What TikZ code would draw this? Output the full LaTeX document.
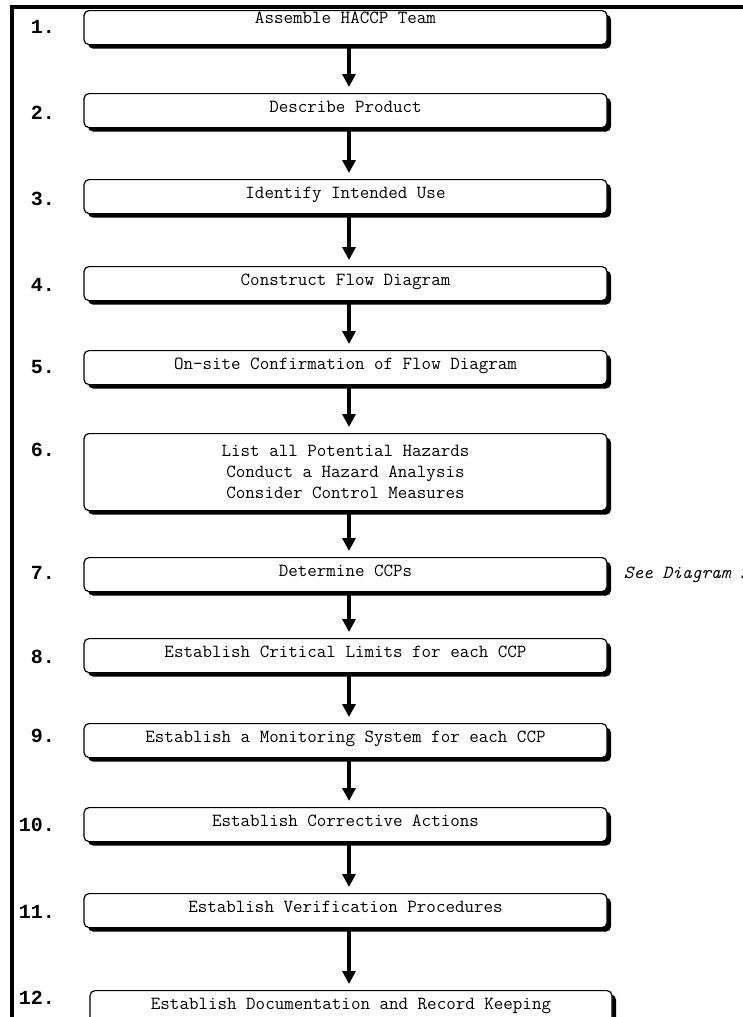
\documentclass[tikz,border=0pt]{standalone}
\usepackage{fontspec}
\newfontfamily\stepnofont{Liberation Mono}
\usetikzlibrary{arrows.meta,shadows,positioning}
\tikzset{
  stepbox/.style={draw,line width=1.2pt,rounded corners=5pt,fill=white,minimum width=523pt,minimum height=34pt,inner sep=0pt,anchor=north,
    font=\ttfamily\fontsize{18.5}{21}\selectfont,drop shadow={shadow xshift=4pt,shadow yshift=-4pt,fill=black,opacity=1}},
  oneline/.style={text height=11pt,text depth=7.5pt},
  stepno/.style={anchor=east,inner sep=0pt,font=\stepnofont\bfseries\fontsize{20}{20}\selectfont},
  flow/.style={line width=3.5pt,-{Triangle[length=13pt,width=13pt]},shorten >=6pt}
}
\begin{document}
\begin{tikzpicture}[x=1pt,y=-1pt]
\useasboundingbox (0,0) rectangle (743,1017);
\clip (0,0) rectangle (743,1017);
\draw[line width=4pt] (12,1017) |- (743,7);
\node[stepbox,oneline,text depth=19pt] (s1) at (345.5,10) {Assemble HACCP Team};
\node[stepbox,oneline] (s2) at (345.5,93) {Describe Product};
\node[stepbox,oneline] (s3) at (345.5,179) {Identify Intended Use};
\node[stepbox,oneline] (s4) at (345.5,266) {Construct Flow Diagram};
\node[stepbox,oneline] (s5) at (345.5,350) {On-site Confirmation of Flow Diagram};
\node[stepbox,minimum height=77pt,align=center] (s6) at (345.5,433) {List all Potential Hazards\\Conduct a Hazard Analysis\\Consider Control Measures};
\node[stepbox,oneline] (s7) at (345.5,557) {Determine CCPs};
\node[stepbox,oneline] (s8) at (345.5,638) {Establish Critical Limits for each CCP};
\node[stepbox,oneline] (s9) at (345.5,723) {Establish a Monitoring System for each CCP};
\node[stepbox,oneline] (s10) at (345.5,807) {Establish Corrective Actions};
\node[stepbox,oneline] (s11) at (345.5,893) {Establish Verification Procedures};
\node[stepbox,oneline,minimum width=522pt] (s12) at (351,990) {Establish Documentation and Record Keeping};
\node[stepno] (n1) at (55,27) {1.}; \node[stepno] (n2) at (55,113) {2.}; \node[stepno] (n3) at (55,199) {3.};
\node[stepno] (n4) at (55,285) {4.}; \node[stepno] (n5) at (55,367) {5.}; \node[stepno] (n6) at (55,450) {6.};
\node[stepno] (n7) at (55,573) {7.}; \node[stepno] (n8) at (55,657) {8.}; \node[stepno] (n9) at (55,736) {9.};
\node[stepno] (n10) at (55,825) {10.}; \node[stepno] (n11) at (55,912) {11.}; \node[stepno] (n12) at (55,998) {12.};
\node[right=16pt of s7,inner sep=0pt,font=\ttfamily\itshape\fontsize{18.5}{18.5}\selectfont] (see) {See Diagram 2};
\draw[flow] ([xshift=3.5pt]s1.south) -- ([xshift=3.5pt]s1.south |- s2.north);
\draw[flow] ([xshift=3.5pt]s2.south) -- ([xshift=3.5pt]s2.south |- s3.north);
\draw[flow] ([xshift=3.5pt]s3.south) -- ([xshift=3.5pt]s3.south |- s4.north);
\draw[flow] ([xshift=3.5pt]s4.south) -- ([xshift=3.5pt]s4.south |- s5.north);
\draw[flow] ([xshift=3.5pt]s5.south) -- ([xshift=3.5pt]s5.south |- s6.north);
\draw[flow] ([xshift=3.5pt]s6.south) -- ([xshift=3.5pt]s6.south |- s7.north);
\draw[flow] ([xshift=3.5pt]s7.south) -- ([xshift=3.5pt]s7.south |- s8.north);
\draw[flow] ([xshift=3.5pt]s8.south) -- ([xshift=3.5pt]s8.south |- s9.north);
\draw[flow] ([xshift=3.5pt]s9.south) -- ([xshift=3.5pt]s9.south |- s10.north);
\draw[flow] ([xshift=3.5pt]s10.south) -- ([xshift=3.5pt]s10.south |- s11.north);
\draw[flow] ([xshift=3.5pt]s11.south) -- ([xshift=3.5pt]s11.south |- s12.north);
\end{tikzpicture}
\end{document}
